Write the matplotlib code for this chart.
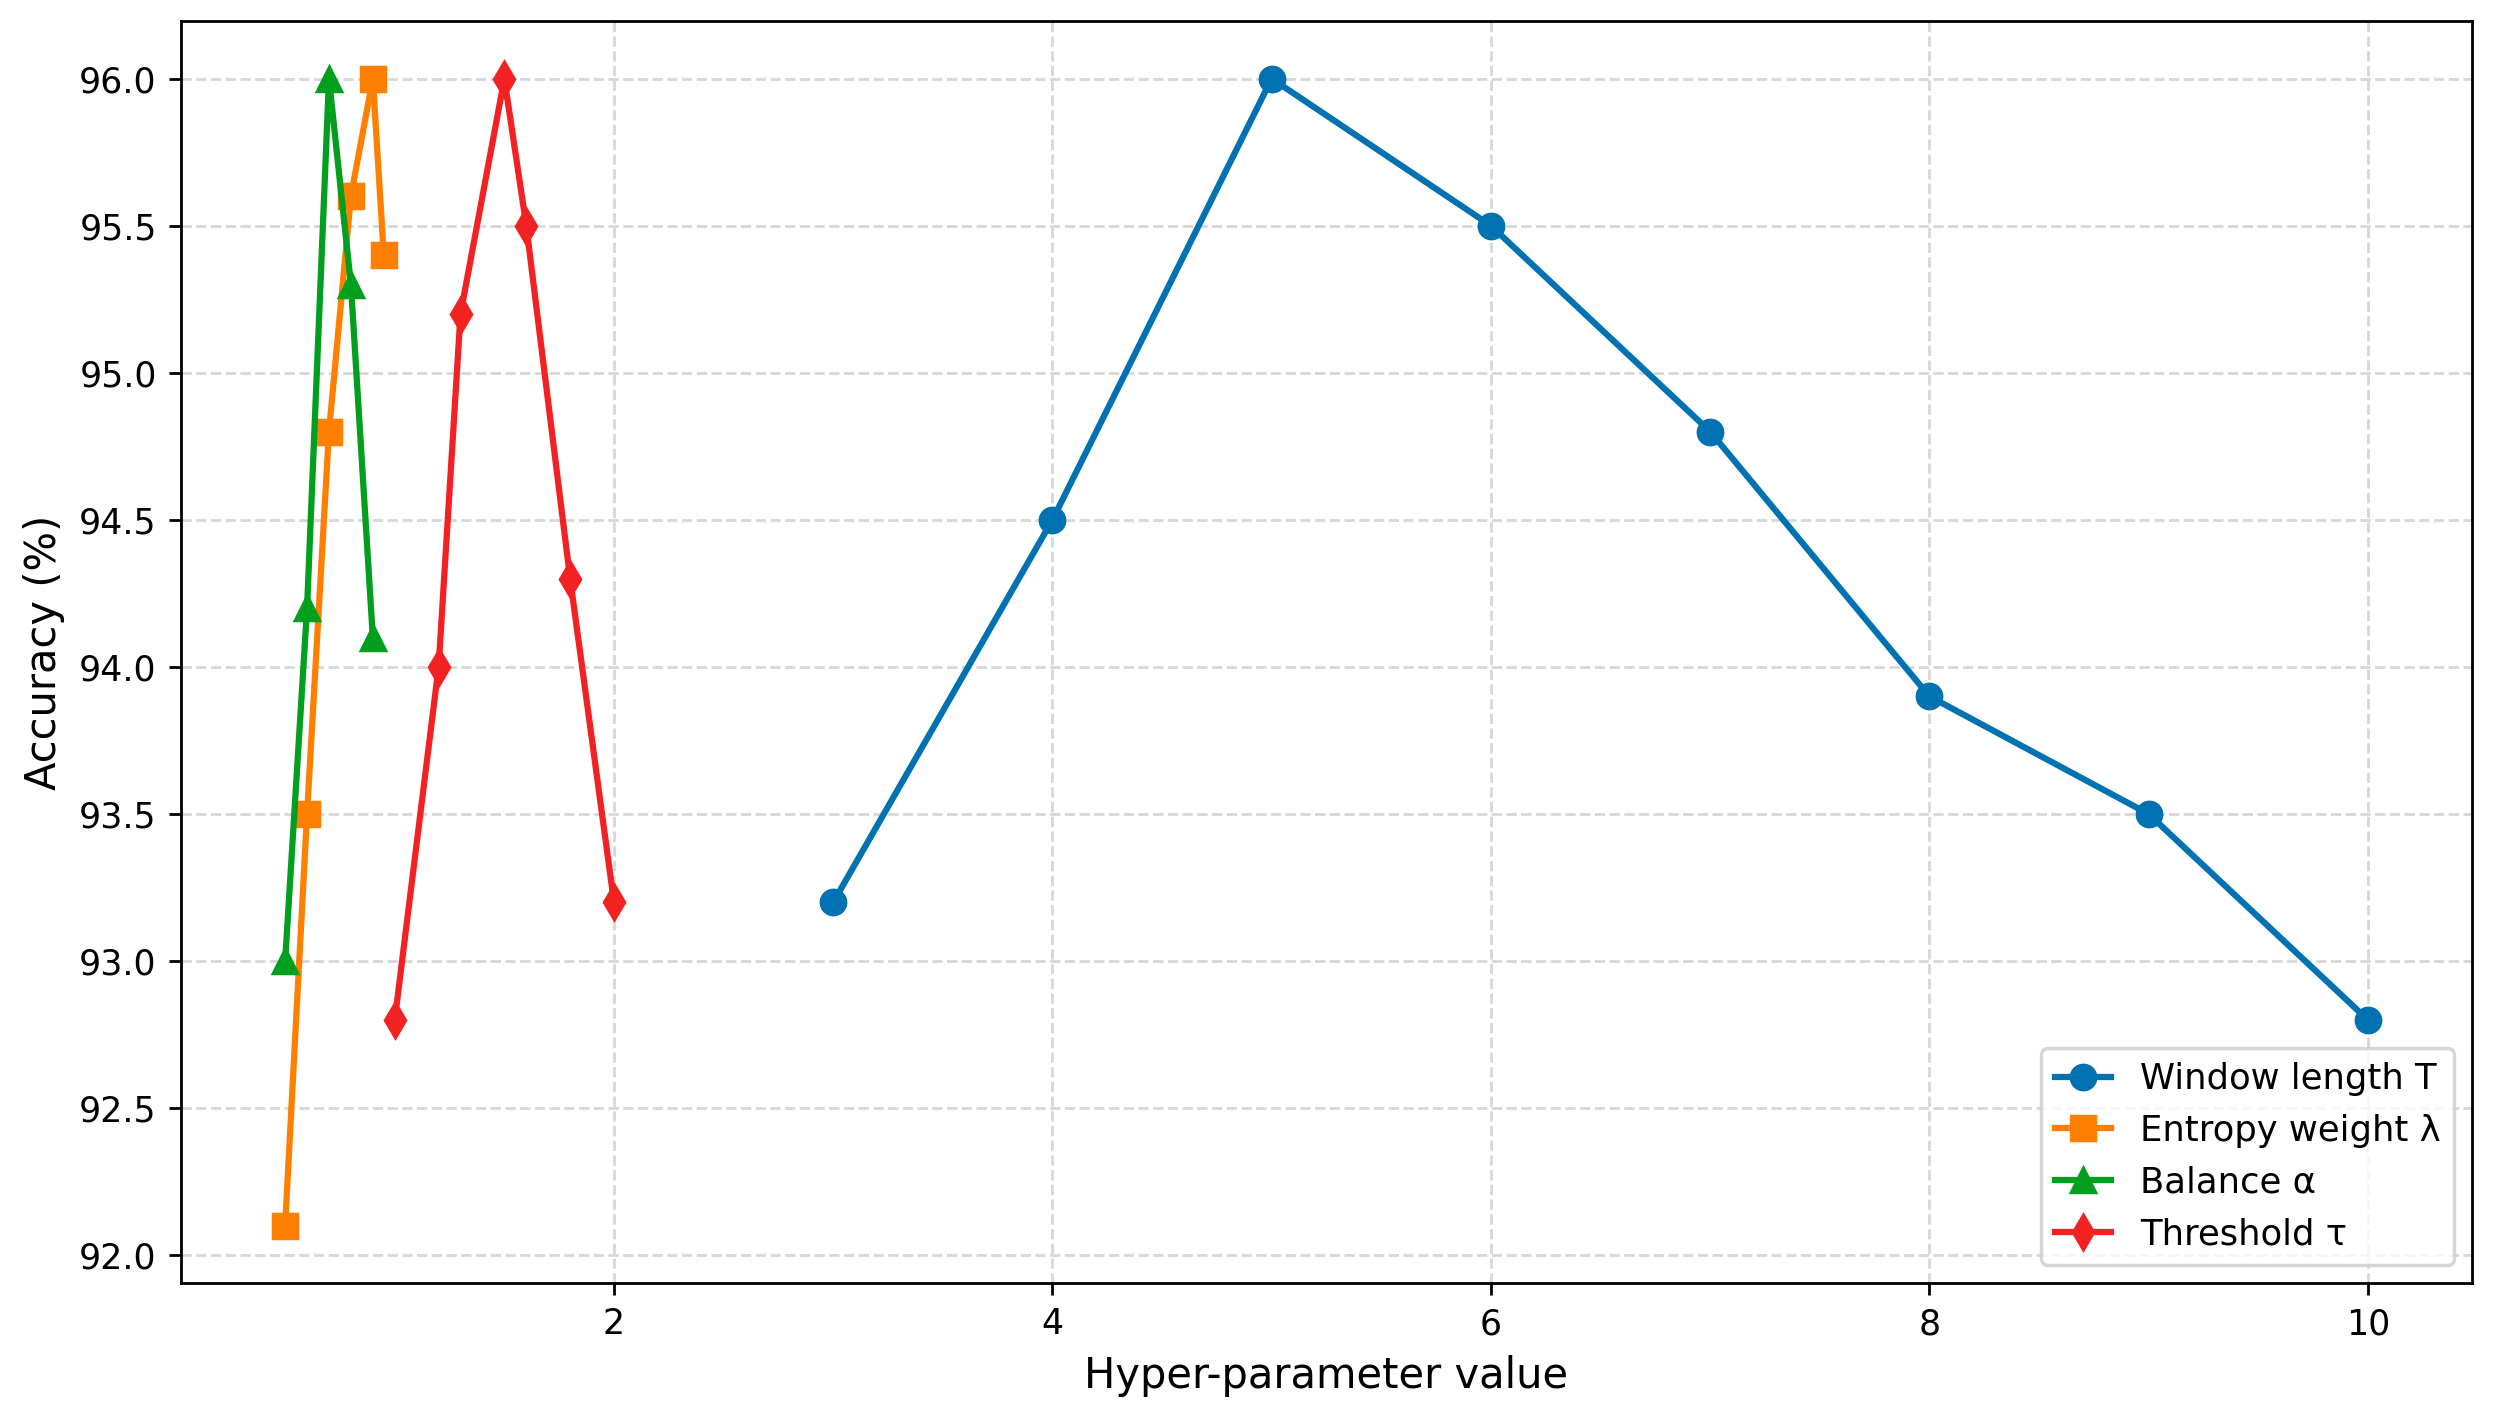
# Hyper-parameter sensitivity plot

import matplotlib
matplotlib.use("Agg")
import matplotlib.pyplot as plt

# window length T
window_x = [3, 4, 5, 6, 7, 8, 9, 10]
window_acc = [93.2, 94.5, 96.0, 95.5, 94.8, 93.9, 93.5, 92.8]

# entropy weight lambda
entropy_x = [0.5, 0.6, 0.7, 0.8, 0.9, 0.95]
entropy_acc = [92.1, 93.5, 94.8, 95.6, 96.0, 95.4]

# balance alpha
balance_x = [0.5, 0.6, 0.7, 0.8, 0.9]
balance_acc = [93.0, 94.2, 96.0, 95.3, 94.1]

# threshold tau
thresh_x = [1.0, 1.2, 1.3, 1.5, 1.6, 1.8, 2.0]
thresh_acc = [92.8, 94.0, 95.2, 96.0, 95.5, 94.3, 93.2]

fig, ax = plt.subplots(figsize=(9.972, 5.684), dpi=250)

ax.plot(window_x, window_acc, marker="o", color="#0072B2", lw=1.8, ms=7, label="Window length T")
ax.plot(entropy_x, entropy_acc, marker="s", color="#FF7F00", lw=1.8, ms=7, label="Entropy weight λ")
ax.plot(balance_x, balance_acc, marker="^", color="#00A01E", lw=1.8, ms=7, label="Balance α")
ax.plot(thresh_x, thresh_acc, marker="d", color="#F22222", lw=1.8, ms=7, label="Threshold τ")

ax.set_xlabel("Hyper-parameter value", fontsize=12)
ax.set_ylabel("Accuracy (%)", fontsize=12)
ax.grid(True, linestyle="--", alpha=0.5)
ax.legend(loc="lower right", fontsize=10.2, handlelength=1.6)

plt.subplots_adjust(left=0.0726, right=0.9916, top=0.985, bottom=0.097)
plt.savefig("out.png", dpi=250)
